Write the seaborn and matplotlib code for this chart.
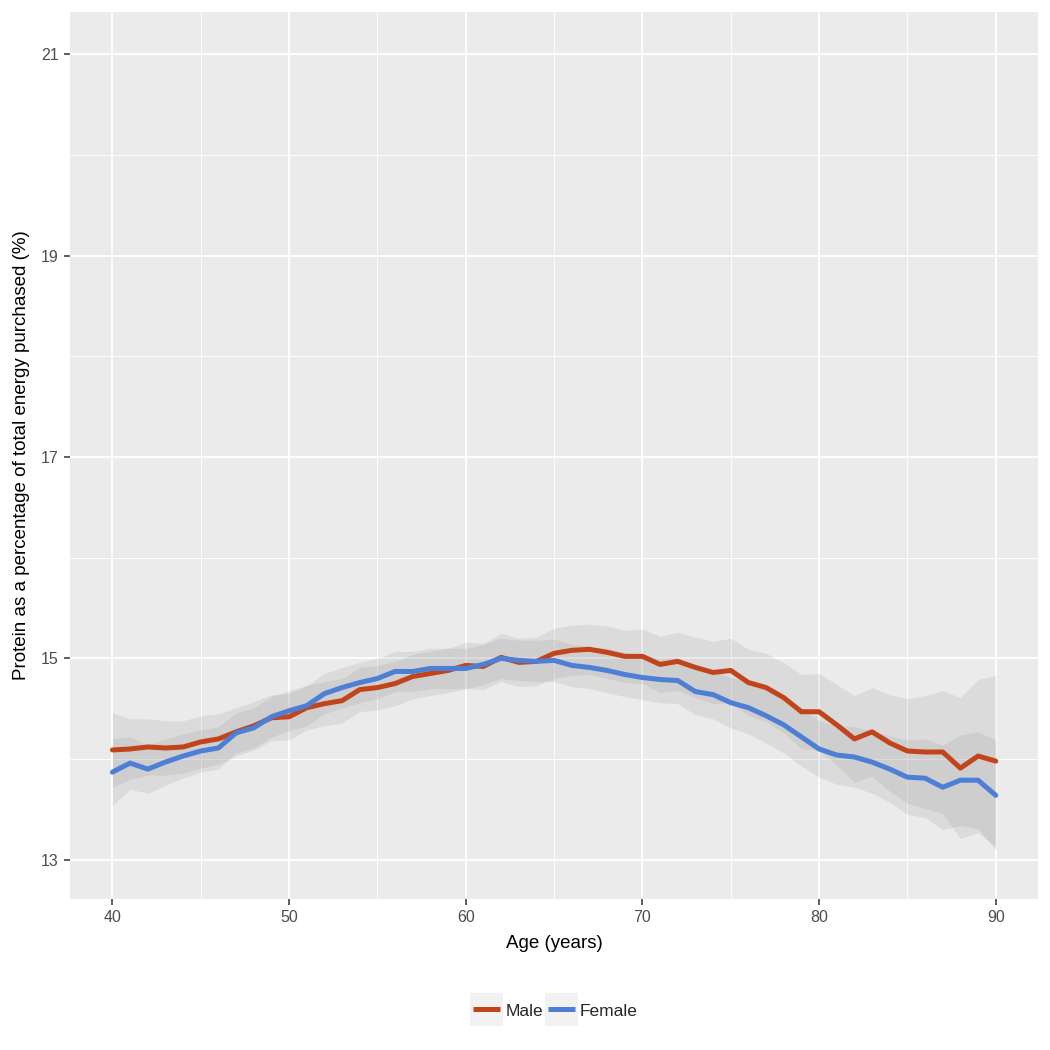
"""
plot.py
Protein share of energy purchased by age, male vs female, with bands.
"""

import numpy as np
import pandas as pd
import matplotlib
matplotlib.use("Agg")
import matplotlib.pyplot as plt
import seaborn as sns
from matplotlib.legend_handler import HandlerBase
from matplotlib.lines import Line2D
from matplotlib.patches import Rectangle

# ── Data ──────────────────────────────────────────────────────────────────────
AGES = list(range(40, 91))

MALE_MEAN = [
    14.09, 14.10, 14.12, 14.11, 14.12, 14.17, 14.20, 14.27, 14.33, 14.41,
    14.42, 14.51, 14.55, 14.58, 14.69, 14.71, 14.75, 14.82, 14.85, 14.88,
    14.93, 14.92, 15.01, 14.96, 14.97, 15.05, 15.08, 15.09, 15.06, 15.02,
    15.02, 14.94, 14.97, 14.91, 14.86, 14.88, 14.76, 14.71, 14.61, 14.47,
    14.47, 14.34, 14.20, 14.27, 14.16, 14.08, 14.07, 14.07, 13.91, 14.03,
    13.98,
]
MALE_UPPER = [
    14.46, 14.40, 14.40, 14.38, 14.38, 14.43, 14.45, 14.51, 14.57, 14.64,
    14.65, 14.73, 14.77, 14.80, 14.91, 14.93, 14.97, 15.04, 15.07, 15.10,
    15.16, 15.15, 15.25, 15.20, 15.21, 15.30, 15.33, 15.34, 15.32, 15.28,
    15.29, 15.22, 15.26, 15.21, 15.17, 15.20, 15.09, 15.05, 14.96, 14.84,
    14.85, 14.74, 14.63, 14.71, 14.64, 14.60, 14.63, 14.68, 14.61, 14.79,
    14.83,
]
MALE_LOWER = [
    13.72, 13.80, 13.84, 13.84, 13.86, 13.91, 13.95, 14.03, 14.09, 14.18,
    14.19, 14.29, 14.33, 14.36, 14.47, 14.49, 14.53, 14.60, 14.63, 14.66,
    14.70, 14.69, 14.77, 14.72, 14.73, 14.80, 14.83, 14.84, 14.80, 14.76,
    14.75, 14.66, 14.68, 14.61, 14.55, 14.56, 14.43, 14.37, 14.26, 14.10,
    14.09, 13.94, 13.77, 13.83, 13.68, 13.56, 13.51, 13.46, 13.21, 13.27,
    13.13,
]

FEMALE_MEAN = [
    13.87, 13.96, 13.90, 13.97, 14.03, 14.08, 14.11, 14.26, 14.31, 14.42,
    14.48, 14.53, 14.65, 14.71, 14.76, 14.80, 14.87, 14.87, 14.90, 14.90,
    14.90, 14.94, 15.00, 14.98, 14.97, 14.98, 14.93, 14.91, 14.88, 14.84,
    14.81, 14.79, 14.78, 14.67, 14.64, 14.56, 14.51, 14.43, 14.34, 14.22,
    14.10, 14.04, 14.02, 13.97, 13.90, 13.82, 13.81, 13.72, 13.79, 13.79,
    13.64,
]
FEMALE_UPPER = [
    14.20, 14.22, 14.14, 14.20, 14.25, 14.29, 14.32, 14.46, 14.51, 14.62,
    14.68, 14.73, 14.85, 14.91, 14.96, 15.00, 15.07, 15.07, 15.10, 15.10,
    15.10, 15.14, 15.20, 15.18, 15.18, 15.19, 15.14, 15.12, 15.10, 15.06,
    15.03, 15.01, 15.01, 14.90, 14.88, 14.81, 14.77, 14.70, 14.62, 14.51,
    14.38, 14.33, 14.32, 14.28, 14.23, 14.19, 14.20, 14.14, 14.24, 14.27,
    14.19,
]
FEMALE_LOWER = [
    13.54, 13.70, 13.66, 13.74, 13.81, 13.87, 13.90, 14.06, 14.11, 14.22,
    14.28, 14.33, 14.45, 14.51, 14.56, 14.60, 14.67, 14.67, 14.70, 14.70,
    14.70, 14.74, 14.80, 14.78, 14.77, 14.77, 14.72, 14.70, 14.66, 14.62,
    14.59, 14.56, 14.55, 14.44, 14.40, 14.31, 14.25, 14.16, 14.06, 13.93,
    13.82, 13.75, 13.72, 13.66, 13.57, 13.45, 13.42, 13.30, 13.34, 13.31,
    13.09,
]

GROUPS  = ["Male", "Female"]
COLORS  = {"Male": "#c1441b", "Female": "#4c7fd5"}
Y_TICKS = [13, 15, 17, 19, 21]
X_TICKS = [40, 50, 60, 70, 80, 90]


class KeyHandler(HandlerBase):
    """Square grey key box (ggplot style) with the line through its middle."""
    def create_artists(self, legend, orig_handle, xdescent, ydescent,
                       width, height, fontsize, trans):
        y_c = 0.36 * fontsize              # roughly the middle of the text
        bg = Rectangle((-xdescent, y_c - width / 2.0), width, width,
                       facecolor="#F2F2F2", edgecolor="none", transform=trans)
        pad = 0.08 * width
        line = Line2D([-xdescent + pad, -xdescent + width - pad], [y_c, y_c],
                      color=orig_handle.get_color(),
                      linewidth=orig_handle.get_linewidth(),
                      solid_capstyle="butt", transform=trans)
        return [bg, line]


def main():
    df = pd.concat([
        pd.DataFrame({"age": AGES, "value": MALE_MEAN, "sex": "Male"}),
        pd.DataFrame({"age": AGES, "value": FEMALE_MEAN, "sex": "Female"}),
    ], ignore_index=True)

    sns.set_theme(style="darkgrid", rc={
        "axes.facecolor": "#EBEBEB",
        "grid.color": "white",
    })
    plt.rcParams["font.family"] = ["Liberation Sans", "DejaVu Sans"]

    fig = plt.figure(figsize=(10.5, 10.5), dpi=100)
    ax = fig.add_axes([0.0667, 0.1438, 0.922, 0.8448])
    ax.set_axisbelow(True)

    # ribbons (grey, overlap gets darker)
    ax.fill_between(AGES, MALE_LOWER, MALE_UPPER, color="#7f7f7f",
                    alpha=0.14, linewidth=0, zorder=1)
    ax.fill_between(AGES, FEMALE_LOWER, FEMALE_UPPER, color="#7f7f7f",
                    alpha=0.14, linewidth=0, zorder=1)

    sns.lineplot(data=df, x="age", y="value", hue="sex", hue_order=GROUPS,
                 palette=COLORS, linewidth=3.6, ax=ax, legend=False, zorder=3)

    # ── Axes ──────────────────────────────────────────────────────────────────
    ax.set_xlim(37.6, 92.4)
    ax.set_ylim(12.61, 21.42)
    ax.set_xticks(X_TICKS)
    ax.set_xticks([45, 55, 65, 75, 85], minor=True)
    ax.set_yticks(Y_TICKS)
    ax.set_yticks([14, 16, 18, 20], minor=True)
    ax.grid(which="major", color="white", linewidth=1.3)
    ax.grid(which="minor", color="white", linewidth=0.65)
    for s in ax.spines.values():
        s.set_visible(False)
    ax.tick_params(which="major", length=4, width=1.1, color="#333333",
                   labelsize=11.5, labelcolor="#4D4D4D", pad=4,
                   bottom=True, left=True)
    ax.tick_params(which="minor", length=0)

    ax.set_xlabel("Age (years)", fontsize=13.5, color="black", labelpad=7)
    ax.set_ylabel("Protein as a percentage of total energy purchased (%)",
                  fontsize=13.5, color="black", labelpad=8)

    # ── Legend ────────────────────────────────────────────────────────────────
    handles = [Line2D([], [], color=COLORS[g], linewidth=3.6) for g in GROUPS]
    fig.legend(handles, GROUPS, loc="center", bbox_to_anchor=(0.5276, 0.038),
               ncol=2, frameon=False, fontsize=12.5, handlelength=1.9,
               handleheight=1.9, handletextpad=0.12, columnspacing=0.12,
               handler_map={Line2D: KeyHandler()})

    fig.savefig("out.png", dpi=100)
    plt.close(fig)


if __name__ == "__main__":
    main()
